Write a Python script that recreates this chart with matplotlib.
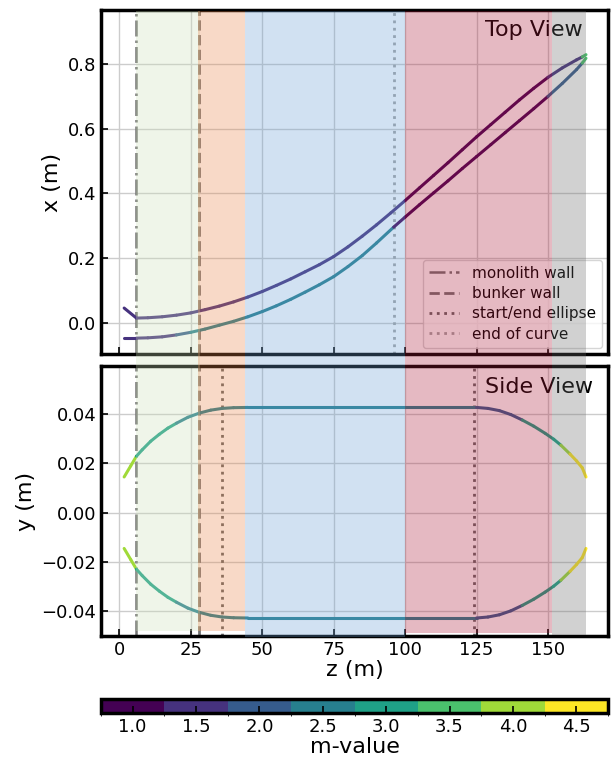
import numpy as np
import matplotlib
matplotlib.use('Agg')
import matplotlib.pyplot as plt
from matplotlib.collections import LineCollection
from matplotlib.colors import BoundaryNorm
from matplotlib.patches import Rectangle
from matplotlib.lines import Line2D
import matplotlib.transforms as mtransforms
from matplotlib.cm import ScalarMappable

# ---------------- data ----------------
# Top view, outer guide wall
top_z_a = [1.7, 6, 10, 15, 20, 25, 30, 35, 40, 45, 50, 55, 60, 65, 70, 75, 80, 85, 90, 95,
           100, 105, 110, 115, 120, 125, 130, 135, 140, 145, 150, 155, 160, 162, 163.3]
top_x_a = [0.046, 0.015, 0.016, 0.019, 0.024, 0.031, 0.041, 0.052, 0.065, 0.080, 0.097, 0.116,
           0.136, 0.158, 0.180, 0.205, 0.235, 0.268, 0.303, 0.340, 0.378, 0.417, 0.456, 0.495,
           0.535, 0.575, 0.613, 0.651, 0.689, 0.725, 0.759, 0.788, 0.813, 0.822, 0.829]
top_m_a = [1.5] * 20 + [1.0] * 10 + [1.5] * 3 + [3.5]

# Top view, inner guide wall
top_z_b = [1.7, 6, 10, 15, 20, 25, 30, 35, 40, 45, 50, 55, 60, 65, 70, 75, 80, 85, 90, 96,
           100, 105, 110, 115, 120, 125, 130, 135, 140, 145, 150, 155, 160, 162, 163.3]
top_x_b = [-0.047, -0.047, -0.046, -0.043, -0.037, -0.029, -0.019, -0.007, 0.005, 0.019, 0.035,
           0.053, 0.073, 0.095, 0.118, 0.143, 0.174, 0.208, 0.247, 0.296, 0.327, 0.365, 0.402,
           0.439, 0.477, 0.514, 0.551, 0.588, 0.625, 0.662, 0.700, 0.740, 0.783, 0.803, 0.818]
top_m_b = [1.5] * 4 + [2.0] + [2.5] * 14 + [1.0] * 11 + [2.0] * 3 + [3.5]

# Side view (top wall; bottom wall is its mirror)
side_z = [1.7, 4, 6, 8, 11, 14, 17, 20, 24, 28, 32, 36, 40, 45, 125, 129, 133, 137, 141, 145,
          149, 152, 154.5, 157.7, 160, 162, 163.3]
side_y_top = [0.0145, 0.0190, 0.0229, 0.0255, 0.0290, 0.0318, 0.0343, 0.0363, 0.0387, 0.0404,
              0.0416, 0.0423, 0.0426, 0.0427, 0.0427, 0.0423, 0.0414, 0.0398, 0.0376, 0.0351,
              0.0322, 0.0298, 0.0274, 0.0238, 0.0210, 0.0182, 0.0145]
side_y_bot = [-v for v in side_y_top]
side_m = [4.0] * 2 + [3.0] * 5 + [2.5] * 7 + [2.0] * 4 + [3.0] * 4 + [4.0] + [4.5] * 3

# markers
monolith_z = 6
bunker_z = 28
ellipse_z = [36, 124]
curve_end_z = 96

# shaded sections
section_start = [6, 27.7, 44, 100, 151.5]
section_end = [28.3, 44, 100, 151.5, 163.3]
section_color = ['#cde1b9', '#e88448', '#699ed4', '#ac1937', '#696969']

m_bounds = [0.75, 1.25, 1.75, 2.25, 2.75, 3.25, 3.75, 4.25, 4.75]
m_ticks = [1.0, 1.5, 2.0, 2.5, 3.0, 3.5, 4.0, 4.5]

# ---------------- figure ----------------
W, H = 611, 759
fig = plt.figure(figsize=(W / 100, H / 100), dpi=100)

def fx(px):
    return px / W

def fy(py):
    return 1 - py / H

ax1 = fig.add_axes([fx(101), fy(354), fx(507), 344 / H])
ax2 = fig.add_axes([fx(101), fy(636), fx(507), 270 / H], sharex=ax1)
cax = fig.add_axes([fx(101), fy(713), fx(507), 14 / H])

cmap = plt.get_cmap('viridis', 8)
norm = BoundaryNorm(m_bounds, cmap.N)


def add_curve(ax, z, v, m):
    pts = np.column_stack([z, v])
    segs = np.stack([pts[:-1], pts[1:]], axis=1)
    lc = LineCollection(segs, cmap=cmap, norm=norm, linewidths=2.2,
                        capstyle='round', joinstyle='round', zorder=3)
    lc.set_array(np.asarray(m))
    ax.add_collection(lc)


add_curve(ax1, top_z_a, top_x_a, top_m_a)
add_curve(ax1, top_z_b, top_x_b, top_m_b)
add_curve(ax2, side_z, side_y_top, side_m)
add_curve(ax2, side_z, side_y_bot, side_m)

wall_c = '0.45'
ell_c = '0.40'
end_c = '0.65'
for ax in (ax1, ax2):
    ax.axvline(monolith_z, color=wall_c, ls='-.', lw=1.8, zorder=2)
    ax.axvline(bunker_z, color=wall_c, ls='--', lw=2.0, zorder=2)
ax1.axvline(curve_end_z, color=end_c, ls=':', lw=2.0, zorder=2)
for ez in ellipse_z:
    ax2.axvline(ez, color=ell_c, ls=':', lw=2.0, zorder=2)

ax1.set_xlim(-6.4, 171.0)
ax1.set_ylim(-0.096, 0.967)
ax2.set_ylim(-0.05, 0.0595)
ax1.set_yticks([0.0, 0.2, 0.4, 0.6, 0.8])
ax2.set_yticks([-0.04, -0.02, 0.0, 0.02, 0.04])
ax2.set_xticks([0, 25, 50, 75, 100, 125, 150])

for ax in (ax1, ax2):
    ax.grid(True, color='0.8', lw=1.0, zorder=0)
    ax.set_axisbelow(True)
    for s in ax.spines.values():
        s.set_linewidth(2.5)
    ax.tick_params(direction='in', length=5, width=1.2, labelsize=13)
ax1.tick_params(labelbottom=False)

ax1.set_ylabel('x (m)', fontsize=16)
ax2.set_ylabel('y (m)', fontsize=16)
ax2.set_xlabel('z (m)', fontsize=16, labelpad=1)
fig.align_ylabels([ax1, ax2])

ax1.text(0.757, 0.972, 'Top View', transform=ax1.transAxes, ha='left', va='top', fontsize=16)
ax2.text(0.757, 0.958, 'Side View', transform=ax2.transAxes, ha='left', va='top', fontsize=16)

handles = [
    Line2D([], [], color=wall_c, ls='-.', lw=1.8, label='monolith wall'),
    Line2D([], [], color=wall_c, ls='--', lw=2.0, label='bunker wall'),
    Line2D([], [], color=ell_c, ls=':', lw=2.0, label='start/end ellipse'),
    Line2D([], [], color=end_c, ls=':', lw=2.0, label='end of curve'),
]
ax1.legend(handles=handles, loc='lower right', fontsize=11, labelspacing=0.35,
           borderaxespad=0.4)

# colorbar
sm = ScalarMappable(norm=norm, cmap=cmap)
cb = fig.colorbar(sm, cax=cax, orientation='horizontal', ticks=m_ticks)
cb.outline.set_linewidth(2.5)
cax.tick_params(direction='in', length=5, width=1.2, labelsize=13)
cb.set_label('m-value', fontsize=16, labelpad=1)

# shaded sections drawn over both panels
trans = mtransforms.blended_transform_factory(ax2.transData, fig.transFigure)
section_bottom_px = [631, 631, 637, 633, 634.5]
top_px = 11
for z0, z1, c, bpx in zip(section_start, section_end, section_color, section_bottom_px):
    r = Rectangle((z0, fy(bpx)), z1 - z0, fy(top_px) - fy(bpx), transform=trans,
                  facecolor=c, alpha=0.3, edgecolor='none', zorder=10)
    fig.add_artist(r)

fig.savefig('out.png', dpi=100)
